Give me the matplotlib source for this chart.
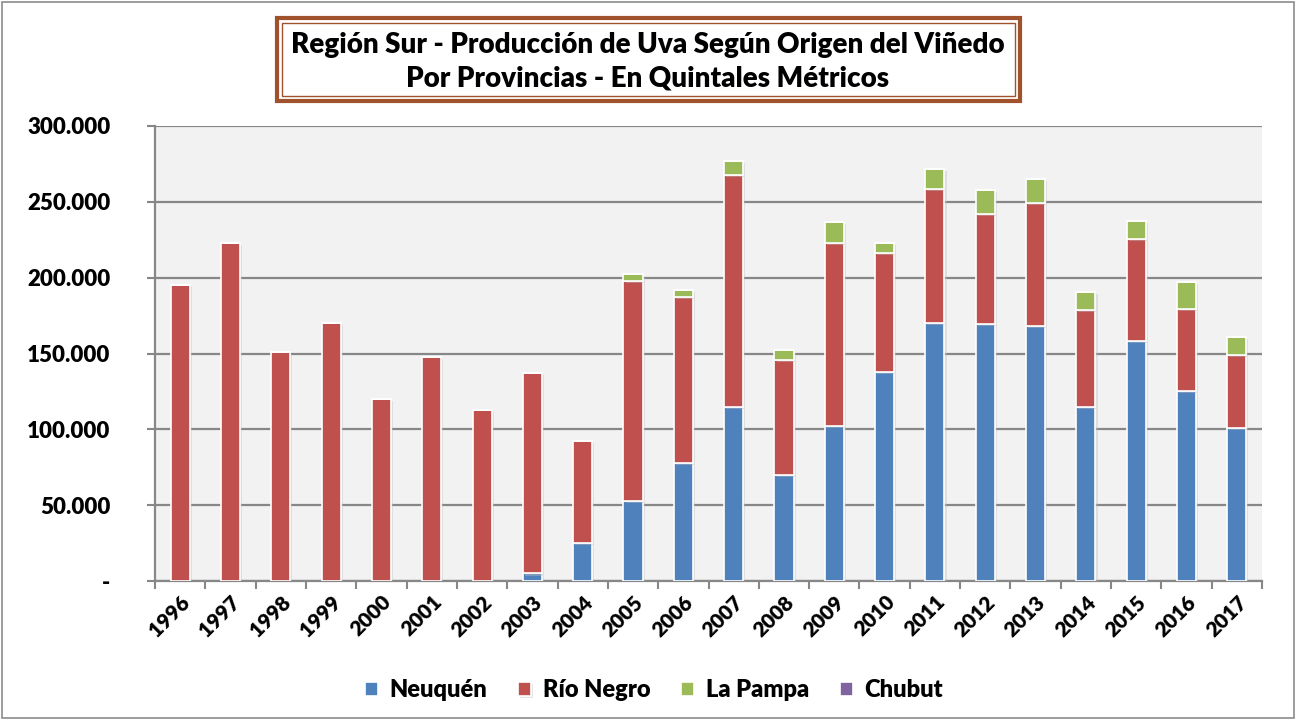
import numpy as np
import matplotlib.pyplot as plt
import matplotlib.patheffects as pe
from matplotlib.patches import Rectangle
from matplotlib.ticker import FixedLocator, FuncFormatter

years = [str(y) for y in range(1996, 2018)]

neuquen = [0, 0, 0, 0, 0, 0, 0, 5000, 25000, 53000, 78000, 115000, 70000, 102000,
           138000, 170000, 169500, 168000, 115000, 158000, 125500, 101000]
rio_negro = [195000, 223000, 151000, 170000, 120000, 148000, 112500, 132000, 67500,
             145000, 109500, 153000, 76000, 121000, 78000, 88500, 72500, 81000, 64000,
             67500, 54000, 48000]
la_pampa = [0, 0, 0, 0, 0, 0, 0, 0, 0, 4500, 4600, 9000, 6000, 13500, 7000, 13000,
            16000, 16000, 11500, 12000, 17500, 12000]
chubut = [0] * 22

series = [("Neuquén", neuquen, "#4f81bd"),
          ("Río Negro", rio_negro, "#c0504d"),
          ("La Pampa", la_pampa, "#9bbb59"),
          ("Chubut", chubut, "#8064a2")]

plt.rcParams['font.family'] = ['Lato', 'DejaVu Sans']
WEIGHT = "heavy"

fig = plt.figure(figsize=(12.96, 7.2), dpi=100)
W, H = 1296, 720
ax = fig.add_axes([155 / W, 1 - 581 / H, (1262 - 155) / W, (581 - 126) / H])
ax.set_facecolor("#f2f2f2")

shadow = [pe.SimplePatchShadow(offset=(1.5, -1.5), shadow_rgbFace="#c0c0c0", alpha=0.4),
          pe.Normal()]
x = np.arange(len(years))
bottom = np.zeros(len(years))
for name, vals, color in series:
    vals = np.array(vals, dtype=float)
    bars = ax.bar(x, vals, 0.38, bottom=bottom, color=color, edgecolor="white",
                  linewidth=1.2, label=name, zorder=3)
    for b in bars:
        if b.get_height() > 0:
            b.set_path_effects(shadow)
    bottom += vals

ax.set_xlim(-0.5, len(years) - 0.5)
ax.set_ylim(0, 300000)
ax.set_yticks(np.arange(0, 300001, 50000))
ax.yaxis.set_major_formatter(FuncFormatter(
    lambda v, p: "-" if v == 0 else f"{int(v):,}".replace(",", ".")))
ax.grid(axis="y", color="#878787", linewidth=1.6, zorder=1)

ax.set_xticks(x)
ax.set_xticklabels(years, rotation=45, ha="right", va="top", rotation_mode="anchor",
                   fontsize=15, fontweight=WEIGHT)
ax.xaxis.set_minor_locator(FixedLocator(np.arange(-0.5, len(years), 1)))
ax.tick_params(axis="x", which="major", length=0, pad=8)
ax.tick_params(axis="x", which="minor", length=6, width=1.5, color="#878787")
ax.tick_params(axis="y", length=6, width=1.5, color="#878787", labelsize=16, pad=26)
for lab in ax.get_yticklabels():
    lab.set_fontweight(WEIGHT)

for side in ["top", "right"]:
    ax.spines[side].set_visible(False)
for side in ["left", "bottom"]:
    ax.spines[side].set_color("#878787")
    ax.spines[side].set_linewidth(1.6)

leg = fig.legend(loc="center", bbox_to_anchor=(654 / W, 1 - 690 / H), ncol=4,
                 frameon=False, prop={"weight": WEIGHT, "size": 17},
                 handlelength=0.55, handleheight=0.55, handletextpad=0.5,
                 columnspacing=1.3)

# outer border
fig.patches.append(Rectangle((2 / W, 2 / H), 1 - 4 / W, 1 - 4 / H, transform=fig.transFigure,
                             fill=False, edgecolor="#8c8c8c", linewidth=1.2))
# title box with double brown border
fig.patches.append(Rectangle((277 / W, 1 - 101 / H), (1020 - 277) / W, (101 - 18) / H,
                             transform=fig.transFigure, facecolor="white",
                             edgecolor="#a0522d", linewidth=3))
fig.patches.append(Rectangle((282 / W, 1 - 96 / H), (1015 - 282) / W, (96 - 23) / H,
                             transform=fig.transFigure, fill=False,
                             edgecolor="#a0522d", linewidth=1))
fig.text(648 / W, 1 - 45 / H, "Región Sur - Producción de Uva Según Origen del Viñedo",
         ha="center", va="center", fontsize=20, fontweight=WEIGHT)
fig.text(648 / W, 1 - 79 / H, "Por Provincias - En Quintales Métricos",
         ha="center", va="center", fontsize=20, fontweight=WEIGHT)

fig.savefig("out.png", dpi=100)
